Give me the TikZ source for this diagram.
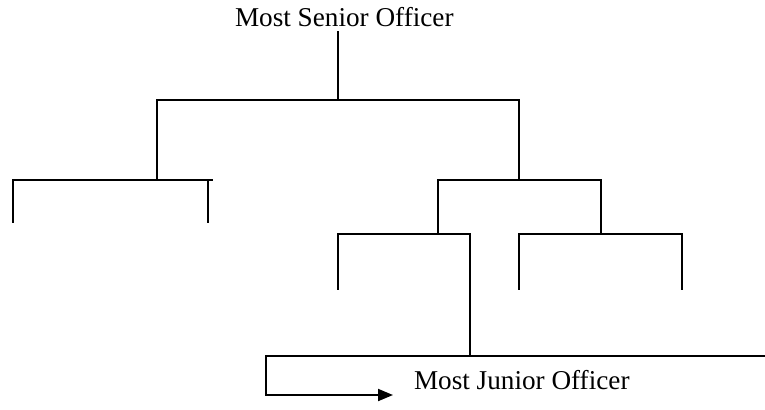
\documentclass[tikz,border=0pt]{standalone}
\usepackage{fontspec}
\setmainfont{Liberation Serif}
\usetikzlibrary{arrows.meta}
\begin{document}
\begin{tikzpicture}[x=0.5pt,y=-0.5pt,line width=1pt,line cap=rect,
	chuc/.style={inner sep=0pt,font=\fontsize{13.6pt}{16pt}\selectfont}]
	\useasboundingbox (0,0) rectangle (765,409);
	\def\ya{100} % tang 1
	\def\yb{180} % tang 2
	\def\yc{234} % tang 3
	\def\yd{356} % tang 4
	\node[chuc,anchor=base west] (senior) at (234,26) {Most Senior Officer};
	\node[chuc,anchor=base west] (junior) at (413,389) {Most Junior Officer};
	\coordinate[] (G) at (338,32);
	\coordinate[] (G1) at (338,\ya);
	\coordinate[] (T) at (157,\ya);
	\coordinate[] (P) at (519,\ya);
	\coordinate[] (T1) at (157,\yb);
	\coordinate[] (P1) at (519,\yb);
	\coordinate[] (Q) at (438,\yb);
	\coordinate[] (R) at (601,\yb);
	\coordinate[] (Q1) at (438,\yc);
	\coordinate[] (R1) at (601,\yc);
	\coordinate[] (K) at (470,\yc);
	\coordinate[] (K1) at (470,\yd);
	\coordinate[] (E) at (266,\yd);
	\coordinate[] (E1) at (266,395);
	\coordinate[] (M) at (393,395);
	\draw (G)--(G1) (T)--(P) (T)--(T1) (P)--(P1) (Q)--(R) (Q)--(Q1) (R)--(R1);
	% nhanh trai
	\draw (13,222)--(13,\yb)--(212,\yb) (208,\yb)--(208,222);
	% nhanh phai
	\draw (338,289)--(338,\yc)--(K) (519,289)--(519,\yc)--(682,\yc)--(682,289);
	\draw (K)--(K1) (E)--(765,\yd);
	\draw[-{Triangle[length=7.5pt,width=6pt]},line cap=butt] (E)--(E1)--(M);
\end{tikzpicture}
\end{document}
